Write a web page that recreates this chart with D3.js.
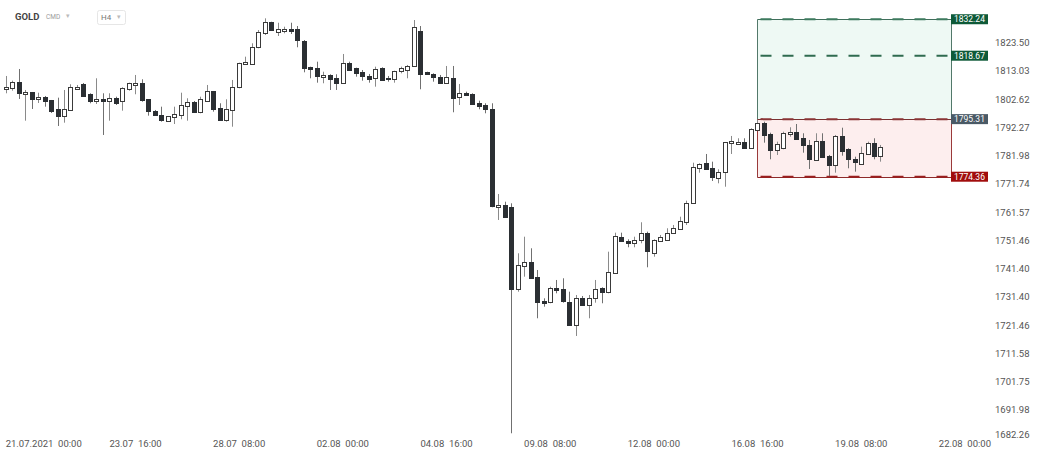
<!DOCTYPE html>
<html><head><meta charset="utf-8">
<script src="https://cdn.jsdelivr.net/npm/d3@7/dist/d3.min.js"></script>
<style>
html,body{margin:0;padding:0;background:#fff;}
svg{display:block;font-family:Roboto,"Noto Sans",sans-serif;}
</style>
</head><body>
<svg id="chart" width="1042" height="458"></svg>
<script>
// ---- data (GOLD, H4) ----
const openP = [1806.27,1806.75,1808.85,1804.54,1805.27,1802.58,1803.54,1802.33,1798.92,1796.46,
1798.66,1806.38,1808.33,1804.54,1801.96,1802.58,1801.96,1802.96,1802.07,1806.38,
1807.85,1808.48,1802.58,1798.41,1796.83,1794.63,1796.10,1796.83,1800.24,1801.70,
1797.67,1802.07,1805.64,1799.29,1794.74,1798.41,1807.01,1815.61,1815.87,1821.65,
1827.00,1831.09,1827.37,1827.74,1828.48,1828.48,1824.24,1814.61,1814.01,1810.69,
1811.54,1810.54,1808.70,1816.09,1814.01,1812.75,1811.28,1810.17,1814.01,1810.32,
1809.95,1812.75,1813.38,1814.87,1827.96,1812.75,1811.80,1810.69,1808.48,1810.54,
1803.32,1805.01,1804.54,1801.12,1800.49,1798.92,1763.55,1764.16,1763.55,1734.11,
1742.36,1743.89,1738.57,1730.08,1729.38,1734.46,1734.11,1729.73,1721.53,1730.92,
1728.57,1730.92,1734.46,1732.90,1739.77,1752.80,1751.37,1750.45,1751.62,1754.02,
1747.10,1751.37,1751.62,1754.02,1755.56,1758.17,1764.77,1777.41,1779.23,1777.41,
1774.15,1775.96,1786.50,1786.50,1786.86,1784.68,1791.60,1794.01,1789.78,1784.06,
1784.68,1789.78,1790.50,1788.32,1785.88,1780.67,1787.34,1781.98,1778.50,1789.16,
1784.31,1780.78,1778.97,1782.86,1786.50,1781.62];
const highP = [1811.17,1809.44,1813.75,1806.01,1805.27,1805.01,1803.80,1802.33,1803.18,1806.01,
1808.11,1807.85,1808.59,1804.79,1810.32,1804.79,1804.79,1803.54,1807.01,1808.70,
1811.54,1809.95,1802.58,1798.66,1799.87,1796.46,1799.87,1805.01,1802.96,1801.96,
1803.54,1807.85,1805.64,1801.12,1802.58,1809.70,1816.09,1818.31,1823.28,1828.22,
1832.58,1831.31,1830.94,1829.45,1830.94,1829.71,1824.50,1814.61,1816.46,1812.75,
1811.80,1811.80,1819.31,1816.46,1814.24,1813.38,1811.91,1814.61,1814.38,1811.17,
1813.12,1814.61,1815.24,1831.94,1829.71,1812.75,1812.16,1811.54,1814.87,1814.87,
1808.22,1805.38,1804.79,1802.07,1801.12,1801.12,1768.12,1765.35,1764.77,1746.88,
1752.80,1748.66,1740.94,1730.92,1735.03,1737.40,1738.00,1733.26,1732.09,1731.74,
1732.09,1737.40,1734.82,1747.45,1754.23,1754.23,1751.87,1752.80,1757.96,1754.59,
1751.87,1753.41,1755.81,1756.99,1759.96,1765.71,1779.44,1779.23,1782.60,1779.81,
1777.05,1786.97,1789.16,1788.32,1788.32,1791.96,1795.00,1794.38,1790.36,1787.08,
1790.72,1792.33,1793.53,1790.14,1787.70,1790.14,1790.14,1782.24,1789.52,1792.18,
1784.68,1781.62,1785.26,1787.08,1788.32,1785.88];
const lowP = [1804.79,1805.75,1802.70,1794.74,1799.03,1801.23,1799.87,1797.56,1792.80,1794.01,
1798.41,1806.27,1803.80,1801.12,1800.86,1789.52,1794.74,1800.49,1798.41,1805.75,
1804.43,1801.70,1796.58,1796.58,1794.38,1794.38,1793.53,1795.26,1794.74,1797.67,
1797.45,1801.70,1798.04,1794.74,1794.38,1792.54,1806.64,1815.24,1815.61,1821.42,
1826.36,1827.85,1825.99,1827.00,1826.74,1821.80,1812.53,1810.32,1808.70,1808.48,
1806.01,1806.01,1808.22,1813.01,1810.91,1809.44,1808.70,1807.23,1809.44,1809.07,
1808.70,1812.16,1810.32,1814.61,1806.27,1811.54,1809.07,1808.22,1808.22,1797.82,
1800.49,1803.80,1800.49,1798.92,1797.45,1763.34,1758.78,1759.74,1683.95,1733.26,
1738.57,1738.00,1723.89,1727.97,1729.17,1732.69,1729.38,1721.18,1717.68,1728.22,
1723.89,1729.38,1729.17,1732.69,1739.52,1751.01,1749.02,1749.02,1750.45,1741.90,
1745.67,1751.01,1751.37,1753.77,1755.20,1756.99,1764.52,1775.82,1776.80,1772.81,
1771.98,1770.75,1782.60,1785.88,1784.42,1784.42,1791.34,1786.72,1780.67,1782.24,
1784.31,1788.90,1787.70,1783.07,1777.16,1780.42,1781.40,1774.62,1775.82,1781.98,
1777.41,1776.18,1778.61,1782.24,1780.67,1779.81];
const closeP = [1807.01,1808.85,1804.79,1805.27,1802.58,1803.43,1801.96,1798.41,1796.46,1798.92,
1807.01,1807.12,1803.91,1801.96,1802.58,1801.96,1802.96,1801.12,1806.75,1808.48,
1808.59,1802.07,1798.04,1796.83,1794.89,1796.46,1797.20,1800.49,1801.70,1798.04,
1802.58,1805.64,1798.92,1794.74,1798.92,1807.01,1815.87,1816.46,1822.02,1827.37,
1831.09,1827.96,1828.60,1828.48,1827.74,1824.24,1814.38,1814.01,1810.91,1811.54,
1810.06,1808.70,1816.09,1813.38,1812.16,1811.17,1810.32,1813.64,1809.70,1809.81,
1813.01,1814.01,1814.87,1829.23,1812.16,1811.91,1810.69,1808.48,1810.69,1803.32,
1804.79,1804.28,1800.86,1799.87,1798.92,1763.55,1764.16,1759.96,1734.46,1742.72,
1743.89,1738.36,1729.73,1729.38,1734.46,1733.61,1729.73,1721.53,1730.92,1728.57,
1730.92,1734.11,1732.90,1740.13,1753.05,1751.26,1750.66,1751.62,1754.02,1747.45,
1751.62,1752.80,1754.23,1755.81,1758.53,1764.99,1777.78,1778.86,1777.05,1774.15,
1776.18,1786.86,1787.34,1787.08,1784.68,1791.60,1794.01,1789.52,1784.06,1786.13,
1790.14,1790.50,1787.95,1785.62,1780.67,1787.44,1781.62,1778.86,1789.16,1783.80,
1780.67,1779.81,1783.07,1786.72,1781.62,1785.04];

const timeLabels = ["21.07.2021  00:00","23.07  16:00","28.07  08:00","02.08  00:00","04.08  16:00",
  "09.08  08:00","12.08  00:00","16.08  16:00","19.08  08:00","22.08  00:00"];
const timeLabelIndex = [0,16,32,48,64,80,96,112,128,144];
const priceTicks = [1823.50,1813.03,1802.62,1792.27,1781.98,1771.74,1761.57,1751.46,1741.40,
  1731.40,1721.46,1711.58,1701.75,1691.98,1682.26];

// risk/reward tool
const toolFrom = 115.9, toolTo = 145.9;
const tpFar = 1832.24, tpNear = 1818.67, entry = 1795.31, stop = 1774.36;

// ---- chart ----
const svg = d3.select("#chart");
const x = d3.scaleLinear().domain([0,144]).range([5.7,938.8]);
const y = d3.scaleLog().domain([1682.26,1832.24]).range([438.2,19.24]);

const x0 = Math.round(x(toolFrom))+0.5, x1 = Math.round(x(toolTo))+0.5;
const yT = Math.round(y(tpFar))+0.5, yE = Math.round(y(entry))+0.5, yS = Math.round(y(stop))+0.5;

// tool areas
const g0 = svg.append("g");
g0.append("rect").attr("x",x0).attr("y",yT).attr("width",x1-x0).attr("height",yE-yT).attr("fill","#eef9f4");
g0.append("rect").attr("x",x0).attr("y",yE).attr("width",x1-x0).attr("height",yS-yE).attr("fill","#fdeeee");
const solid = [
  [x0,x0,yT,yE,"#52786a"],[x1,x1,yT,yE,"#52786a"],
  [x0,x0,yE,yS,"#9a3a3a"],[x1,x1,yE,yS,"#9a3a3a"],
  [x0,x1,yT,yT,"#3f6e5a"],[x0,x1,yE,yE,"#7a3030"],[x0,x1,yS,yS,"#8e2a2a"]];
solid.forEach(([a,b,c,d,col])=>{
  g0.append("line").attr("x1",a).attr("x2",b).attr("y1",c).attr("y2",d).attr("stroke",col).attr("stroke-width",1);
});
// dashed levels
const dashLevels = [[tpFar,"#3d7a5e"],[tpNear,"#2f6b4f"],[entry,"#8a3535"],[stop,"#9a1f1f"]];
dashLevels.forEach(([v,c])=>{
  g0.append("line").attr("x1",x0+3).attr("x2",x1).attr("y1",y(v)).attr("y2",y(v))
    .attr("stroke",c).attr("stroke-width",2).attr("stroke-dasharray","11,11");
});

// candles
const gc = svg.append("g");
openP.forEach((o,i)=>{
  const c = closeP[i], h = highP[i], l = lowP[i];
  const cx = Math.round(x(i));
  const up = c >= o;
  gc.append("line").attr("x1",cx+0.5).attr("x2",cx+0.5)
    .attr("y1",y(h)).attr("y2",y(l))
    .attr("stroke", up ? "#8a8a8a" : "#707070").attr("stroke-width",1);
  const top = y(Math.max(o,c)), bot = y(Math.min(o,c));
  const hh = Math.max(1, bot-top);
  gc.append("rect").attr("x",cx-2+0.5).attr("y",Math.round(top)+0.5)
    .attr("width",4).attr("height",Math.max(1,Math.round(hh)))
    .attr("fill", up ? "#ffffff" : "#2b2f33")
    .attr("stroke", up ? "#3a3a3a" : "#2b2f33").attr("stroke-width",1);
});

// tag boxes
const tags = [[tpFar,"#0e5a38"],[tpNear,"#0e5a38"],[entry,"#4a5a66"],[stop,"#a10d0d"]];
tags.forEach(([v,c])=>{
  const yy = y(v);
  svg.append("rect").attr("x",951).attr("y",yy-5).attr("width",37).attr("height",10).attr("fill",c);
  svg.append("text").attr("x",954).attr("y",yy).attr("dy","0.35em")
    .attr("font-size",8.5).attr("fill","#ffffff").text(v.toFixed(2));
});

// price axis labels
svg.append("g").selectAll("text").data(priceTicks).join("text")
  .attr("x",995).attr("y",d=>Math.min(434.3,y(d))).attr("dy","0.35em")
  .attr("font-size",9.5).attr("fill","#555").text(d=>d.toFixed(2));

// time axis labels
svg.append("g").selectAll("text").data(timeLabels).join("text")
  .attr("x",(d,i)=>x(timeLabelIndex[i])).attr("y",444).attr("dy","0.35em")
  .attr("font-size",9.5).attr("fill","#555").style("white-space","pre").text(d=>d);

// header
svg.append("text").attr("x",15).attr("y",17).attr("dy","0.35em").attr("font-size",9.5)
  .attr("font-weight","bold").attr("fill","#444").text("GOLD");
svg.append("text").attr("x",46).attr("y",17).attr("dy","0.35em").attr("font-size",6.5)
  .attr("fill","#9a9a9a").text("CMD");
svg.append("text").attr("x",66).attr("y",16).attr("dy","0.35em").attr("font-size",7)
  .attr("fill","#bbb").text("▾");
svg.append("rect").attr("x",97.5).attr("y",10.5).attr("width",28).attr("height",14).attr("rx",2)
  .attr("fill","#fff").attr("stroke","#e6e6e6");
svg.append("text").attr("x",101).attr("y",17.5).attr("dy","0.35em").attr("font-size",8)
  .attr("fill","#777").text("H4");
svg.append("text").attr("x",117).attr("y",17).attr("dy","0.35em").attr("font-size",7)
  .attr("fill","#bbb").text("▾");
</script>
</body></html>
